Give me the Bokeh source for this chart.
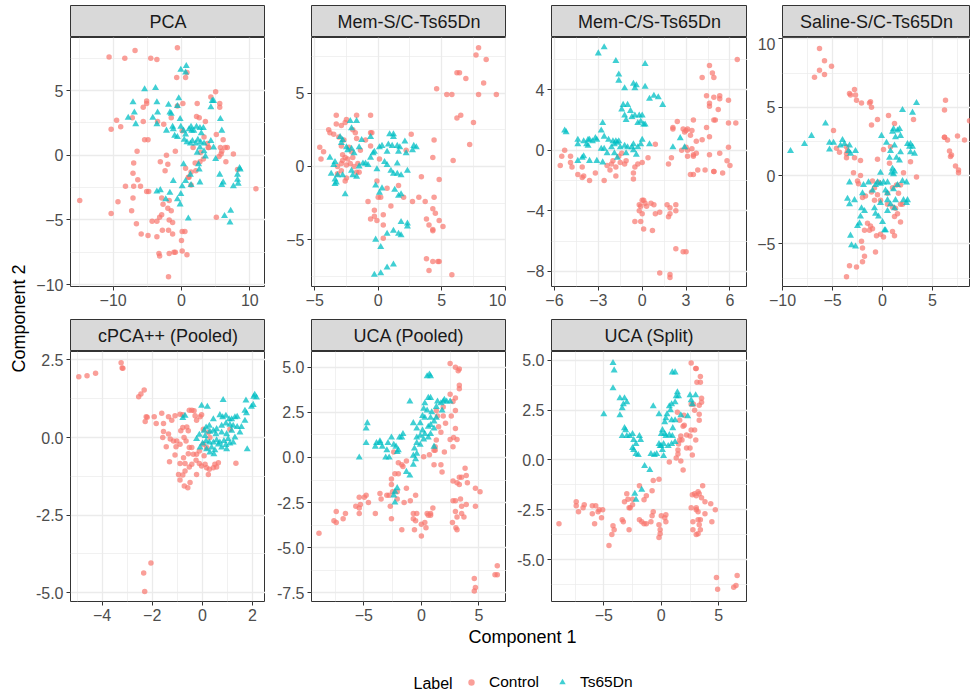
import math
from bokeh.plotting import figure
from bokeh.models import Range1d, FixedTicker, NumeralTickFormatter, Legend, LegendItem, ColumnDataSource
from bokeh.layouts import row, column
from bokeh.embed import file_html
from bokeh.resources import INLINE
from bokeh.core.properties import value

FONT = "Liberation Sans"
RED = "#F8766D"
TEAL = "#00BFC4"

# ---------------- data (x, y) ----------------
pca_control = [
(-10.6,7.6),(-8.3,7.5),(-6.8,8.1),(-4.5,7.5),(-3.6,7.4),(-0.6,8.3),(-0.7,6.0),(0.6,6.0),(0.8,6.4),
(-9.5,2.7),(-10.3,2.0),(-8.9,2.2),(-5.1,4.2),(-5.1,4.0),(-5.6,3.7),(-5.6,2.6),(-7.2,2.9),(-3.5,2.6),(-2.6,2.4),
(-6.5,0.3),(-5.4,1.2),(-4.9,1.2),(-2.2,0.0),(-0.9,0.3),(0.1,1.9),(0.2,4.0),(-0.6,3.8),(-1.5,2.9),
(-7.0,-0.6),(-7.1,-1.4),(-8.2,-2.4),(-7.0,-2.4),(-6.4,-1.9),(-6.0,-2.4),(-7.1,-3.3),(-9.3,-3.6),(-14.9,-3.5),
(-10.3,-4.5),(-7.3,-4.3),(-6.6,-5.3),(-5.1,-2.8),(-4.8,-2.8),(-3.1,-0.5),(-2.4,-1.2),(-2.0,-0.7),(-2.9,-3.3),
(-2.7,-3.8),(-2.0,-4.1),(-1.5,-4.3),(-1.8,-3.5),(-5.9,-6.1),(-4.9,-6.2),(-4.3,-5.1),(-3.6,-5.1),(-3.2,-4.8),
(-2.9,-4.6),(-3.6,-6.3),(-2.8,-5.8),(-1.9,-5.8),(-1.3,-6.1),(-1.8,-5.0),(-1.3,-5.2),(-3.3,-7.6),(-3.2,-7.8),
(-1.8,-7.6),(-1.1,-7.5),(-0.9,-7.5),(0.1,-5.9),(0.5,-5.9),(0.0,-6.6),(0.1,-7.4),(0.8,-7.7),(-1.9,-9.4),
(0.6,-1.0),(1.0,-1.7),(1.4,-1.3),(2.0,-0.6),(2.7,-0.5),(1.1,-1.7),(1.4,-2.3),(2.1,-1.2),(1.7,0.6),
(2.6,2.9),(2.3,4.0),(2.2,3.0),(3.5,2.6),(4.3,4.5),(5.0,4.9),(5.6,4.0),(5.6,3.7),(3.3,1.4),(3.8,0.9),(3.9,0.6),
(5.1,1.6),(6.1,1.2),(5.7,0.6),(5.9,0.3),(6.4,0.6),(6.7,0.6),(5.5,-0.1),(5.8,0.1),(6.5,-0.5),(7.6,0.1),(8.2,-1.1),
(10.9,-2.6),(5.1,-4.8),(4.0,0.6),(3.2,-0.3),(2.8,0.2)]
pca_ts65dn = [
(0.7,6.9),(-0.1,6.6),(0.6,6.4),(-5.4,5.1),(-3.8,5.2),(-7.1,4.1),(-6.9,3.3),(-7.8,2.9),(-6.7,2.4),(-3.6,4.1),
(-3.5,3.3),(-4.2,2.9),(-3.6,2.4),(-1.9,3.9),(-1.7,3.3),(-1.5,3.2),(-0.6,3.8),(-0.4,4.4),(-0.2,2.8),(-2.2,1.9),
(-1.2,2.0),(-1.3,2.2),(-1.0,1.5),(-0.6,1.4),(-0.1,2.2),(0.3,1.9),(0.6,1.6),(1.1,2.0),(1.4,2.2),(1.5,1.9),
(1.8,1.9),(2.2,2.2),(2.7,2.1),(3.2,2.1),(2.9,1.7),(0.4,1.2),(0.8,1.0),(1.3,0.9),(1.6,1.1),(2.1,0.9),(2.4,1.2),
(2.8,1.0),(3.3,0.9),(2.7,0.6),(2.3,0.2),(3.3,0.3),(3.5,-0.1),(4.3,1.1),(4.7,0.6),(4.5,4.2),(4.7,4.2),(4.3,3.7),
(5.7,2.8),(5.9,1.9),(5.0,-0.3),(0.3,-0.7),(2.5,-0.7),(2.6,-1.1),(1.3,-1.5),(1.4,-2.3),(2.7,-2.1),(-1.2,-2.0),
(0.1,-2.4),(0.6,-2.0),(-3.6,-2.8),(-3.1,-2.7),(-2.3,-3.4),(-1.7,-2.9),(-0.6,-3.4),(-0.2,-3.8),(-0.1,-3.0),
(1.0,-4.9),(5.6,-1.5),(5.9,-2.3),(6.1,-2.1),(7.6,-2.4),(8.2,-1.9),(8.3,-2.2),(8.5,-1.0),(8.6,-1.1),(8.2,-1.5),
(6.3,-4.7),(7.2,-4.3),(7.1,-5.2)]

memsc_control = [
(7.9,8.1),(7.7,7.6),(8.5,7.3),(6.2,6.4),(6.4,6.4),(6.9,6.0),(8.3,5.7),(4.6,5.3),(5.4,4.9),(5.8,4.9),(7.9,4.9),
(9.3,4.9),(6.2,3.3),(6.5,3.5),(7.5,3.0),(7.2,1.5),(5.9,0.4),(4.4,1.8),(4.3,0.6),(4.8,-0.9),(3.4,-0.7),(3.2,-2.1),
(3.7,-2.4),(2.7,-2.4),(4.4,-2.1),(4.3,-2.9),(4.5,-3.2),(3.8,-3.6),(4.0,-4.0),(4.3,-4.3),(4.3,-4.4),(4.8,-3.7),
(5.1,-4.1),(3.8,-6.3),(4.0,-7.1),(4.3,-6.5),(4.7,-6.5),(4.8,-6.5),(5.8,-7.4),(2.6,2.2),(2.2,1.1),(1.0,-2.7),
(0.7,-1.5),(1.6,-1.3),(2.0,-2.1),(0.2,-2.1),(0.0,-2.1),(-0.1,-1.0),(-0.8,-2.4),(-0.3,-3.0),(-0.6,-3.6),(-0.3,-3.4),
(-0.1,-3.7),(0.4,-3.3),(0.4,-4.0),(0.4,-4.9),(0.1,0.5),(-0.6,3.5),(-1.7,3.5),(-3.3,3.5),(-3.3,2.9),(-2.9,2.8),
(-3.9,2.5),(-3.8,2.3),(-3.5,2.2),(-2.5,3.2),(-2.6,3.0),(-2.0,2.5),(-1.8,2.3),(-1.7,1.9),(-0.6,2.3),(-0.5,2.3),
(-1.0,1.8),(-2.7,1.8),(-3.1,2.0),(-4.6,1.3),(-4.3,1.0),(-4.5,0.5),(-2.9,1.4),(-2.3,1.3),(-2.1,1.0),(-2.0,0.6),
(-2.8,0.8),(-2.6,0.6),(-2.8,0.4),(-2.9,0.2),(-2.4,0.5),(-2.5,0.1),(-2.2,0.2),(-3.2,0.0),(-2.9,-0.3),(-1.9,0.0),
(-1.6,0.2),(-1.7,-0.4),(-1.5,-0.4),(-2.5,-0.8),(-2.6,-1.0),(-3.2,-0.5),(-0.6,1.4),(-1.4,1.1)]
memsc_ts65dn = [
(-2.2,3.1),(-1.7,3.1),(-2.1,2.6),(-3.0,2.0),(-2.8,1.8),(-2.9,1.6),(-1.3,1.8),(-1.5,1.3),(-2.5,1.3),(-2.4,1.1),
(-2.1,1.2),(-1.9,0.9),(-3.8,0.6),(-3.4,0.3),(-3.5,0.1),(-3.2,-0.6),(-3.7,-0.5),(-3.4,-0.9),(-3.3,-1.1),(-3.4,-1.2),
(-2.6,-1.9),(-2.8,-0.6),(-2.1,-0.3),(-2.0,-0.6),(-1.7,-0.7),(-1.5,0.0),(-1.2,0.2),(-1.0,0.2),(-0.8,0.1),(-0.6,0.6),
(-0.4,0.9),(-0.3,1.0),(-0.6,2.0),(0.1,1.3),(0.3,1.4),(0.7,1.0),(0.9,2.2),(1.2,2.2),(1.2,2.0),(0.8,1.5),(1.1,1.4),
(1.5,1.4),(1.7,1.3),(1.6,1.0),(2.1,1.7),(2.2,0.9),(2.7,1.1),(2.8,1.4),(3.0,1.3),(0.5,0.3),(0.7,0.1),(1.0,-0.3),
(1.5,0.2),(1.2,-0.5),(1.5,-0.5),(2.3,-0.3),(1.8,-0.6),(-0.1,-0.2),(-0.2,-1.3),(0.1,-1.8),(0.3,-1.5),(1.3,-1.6),
(1.6,-2.0),(1.8,-1.9),(1.8,-3.8),(2.3,-3.9),(2.3,-4.1),(1.6,-4.6),(1.8,-4.7),(1.2,-4.4),(0.7,-4.6),(-0.2,-5.0),
(0.2,-5.5),(0.7,-6.9),(1.2,-6.7),(-0.3,-7.4),(0.2,-7.3)]

memcs_control = [
(6.5,6.0),(4.6,5.6),(4.8,5.1),(4.9,4.8),(4.1,4.8),(4.4,3.6),(4.9,3.5),(5.3,3.6),(4.6,3.1),(4.6,2.9),(5.3,3.4),
(5.9,3.3),(5.2,2.7),(4.9,2.0),(5.0,2.0),(4.4,1.5),(4.6,0.9),(5.9,1.8),(6.4,1.8),(5.9,0.2),(3.5,2.0),(3.4,1.3),
(4.1,0.7),(3.7,0.6),(3.0,1.3),(3.1,1.4),(3.3,1.0),(3.4,0.1),(3.5,-0.3),(3.7,-0.2),(3.5,-0.4),(3.1,-0.4),(2.4,1.9),
(2.1,1.5),(2.8,1.4),(2.9,1.2),(3.0,0.2),(2.7,0.0),(3.1,0.0),(3.8,-1.3),(4.3,-1.3),(3.3,-1.6),(3.5,-1.6),(4.9,-1.4),
(4.9,-1.4),(5.5,-1.5),(4.6,-0.3),(5.3,-0.2),(5.8,-0.7),(6.0,-1.0),(1.8,-0.9),(2.0,-0.5),(2.1,1.4),(0.9,0.4),
(0.4,-0.5),(0.0,-0.8),(-0.3,-0.9),(-0.5,-1.1),(-0.6,-1.5),(-0.6,-1.9),(-1.1,-0.7),(-1.2,-0.9),(-1.5,-0.8),
(-1.8,-1.1),(-1.8,-1.7),(-2.0,-0.7),(-2.1,-0.9),(-2.2,-1.3),(-2.4,-1.0),(-2.6,-2.0),(-3.2,-1.5),(-3.6,-2.0),
(-4.0,-1.7),(-4.1,-1.8),(-4.1,-1.1),(-4.4,-1.6),(-4.8,-1.1),(-4.9,-0.8),(-4.9,-0.4),(-5.5,-0.4),(-5.6,-1.0),
(-5.3,0.0),(-1.4,-0.2),(-1.6,-0.4),(0.3,-3.7),(0.0,-3.3),(0.1,-3.3),(0.2,-3.5),(-0.2,-3.6),(-0.1,-3.7),(0.0,-4.2),
(-0.2,-4.0),(-0.5,-4.7),(-0.1,-4.7),(0.1,-5.2),(0.6,-3.5),(0.8,-3.6),(0.9,-4.2),(1.2,-4.1),(1.7,-3.6),(1.9,-3.8),
(2.3,-3.6),(2.3,-4.0),(1.8,-4.4),(1.9,-4.2),(0.7,-5.3),(2.3,-6.5),(2.8,-6.7),(3.0,-6.7),(1.2,-8.1),(1.9,-8.2),
(1.9,-8.4)]
memcs_ts65dn = [
(-2.6,6.8),(-3.0,6.4),(-1.8,5.9),(-1.6,5.0),(-1.6,4.6),(-1.2,4.1),(-0.6,4.4),(-0.4,4.3),(-0.5,4.1),(0.2,4.2),
(0.2,5.7),(0.5,3.4),(0.8,3.6),(1.1,3.5),(1.4,3.0),(-1.3,3.0),(-1.0,3.0),(-1.4,2.7),(-0.8,2.6),(-1.2,2.3),
(-1.1,2.0),(-0.7,2.2),(-0.5,2.3),(-0.2,2.3),(0.0,2.3),(-0.3,1.8),(-0.1,1.9),(0.1,1.7),(0.2,1.7),(-2.7,1.8),
(-2.8,1.3),(-5.3,1.3),(-5.2,1.2),(-4.4,0.7),(-4.4,0.4),(-4.0,0.6),(-3.8,0.4),(-3.7,0.7),(-3.6,0.7),(-3.4,0.6),
(-3.7,0.3),(-3.2,0.8),(-3.1,0.7),(-2.8,0.1),(-2.6,0.9),(-2.3,0.7),(-2.0,0.6),(-1.9,0.4),(-1.8,0.6),(-1.7,0.5),
(-1.6,0.6),(-2.1,0.2),(-1.9,-0.2),(-2.4,-0.2),(-2.6,0.1),(-1.5,0.2),(-1.2,0.3),(-1.0,0.2),(-1.1,-0.2),(-0.7,0.2),
(-0.6,0.0),(-0.6,0.4),(-0.4,-0.3),(-0.3,0.2),(-0.1,0.4),(0.0,0.7),(0.5,0.4),(-4.0,-0.4),(-4.1,-0.5),(-3.6,-0.7),
(-4.4,-0.7),(-3.1,-0.7),(-2.7,-0.8),(-1.7,-0.5),(2.6,0.8),(2.1,0.2),(2.9,0.2)]

saline_control = [
(-6.3,9.3),(-5.8,8.4),(-6.3,7.7),(-6.8,7.2),(-5.8,7.4),(-5.1,8.0),(-3.3,6.0),(-2.8,6.3),(-3.2,5.9),(-2.7,5.9),
(-2.6,5.5),(-2.1,5.3),(-1.2,5.4),(-1.1,5.0),(-1.3,5.3),(-0.5,4.1),(-1.1,3.7),(0.6,4.4),(1.2,3.8),(3.1,4.1),
(-4.9,3.3),(-4.6,2.0),(-4.3,1.7),(-3.6,2.1),(-3.6,1.6),(-3.6,1.3),(-2.8,1.3),(-3.5,1.8),(-2.2,1.1),(0.1,1.9),
(0.8,2.1),(2.8,1.0),(3.4,-0.1),(2.1,0.2),(0.7,0.9),(-2.9,0.2),(-2.2,0.0),(-2.5,-0.4),(-2.4,-0.6),(-2.0,-1.6),
(-1.7,-1.5),(-1.1,-1.2),(-1.0,-0.4),(-0.8,-0.9),(-0.4,-0.5),(-0.2,-1.8),(-0.8,-1.8),(-0.5,-1.4),(0.5,-1.3),
(1.0,-0.9),(1.4,-0.7),(1.8,-0.7),(1.6,-1.3),(1.8,-2.1),(2.0,-2.1),(1.3,-2.4),(1.5,-2.8),(1.2,-3.0),(1.8,-3.4),
(1.0,-2.3),(0.5,-2.1),(-1.5,-3.5),(-1.8,-4.0),(-1.3,-4.0),(-1.2,-3.7),(-1.0,-3.9),(-0.2,-4.3),(0.1,-4.5),
(-0.6,-4.4),(-0.7,-5.6),(1.0,-4.1),(1.2,-4.4),(-2.1,-4.8),(-2.0,-5.3),(-1.8,-5.9),(-2.0,-6.3),(-2.6,-6.7),
(-3.3,-6.6),(-3.6,-7.4),(6.3,5.5),(6.2,4.8),(8.7,4.0),(6.2,2.8),(6.2,2.8),(6.5,2.6),(7.5,2.9),(8.2,2.6),(6.7,1.8),
(6.9,1.5),(6.8,1.4),(7.3,0.7),(7.6,0.4),(7.6,0.2),(-0.5,1.2)]
saline_ts65dn = [
(-9.2,1.8),(-7.8,2.3),(-7.1,2.9),(-5.7,3.8),(-5.3,2.4),(-4.9,2.4),(-5.3,1.9),(-4.2,2.2),(-4.0,2.6),(-3.8,2.3),
(-3.3,2.2),(-3.4,1.8),(-3.2,1.6),(-2.7,1.8),(-3.3,-0.5),(-3.5,-1.7),(-3.3,-2.1),(-2.8,-1.8),(-1.9,-0.7),(-2.1,-2.4),
(-2.2,-3.0),(-2.5,-3.7),(-3.2,-4.4),(-3.1,-5.1),(-2.7,-5.2),(-2.3,-3.5),(-1.8,-2.6),(-2.0,-1.3),(-1.4,-0.5),
(-1.0,-1.1),(-0.7,-0.7),(-0.5,-0.5),(-0.2,0.2),(-0.2,-0.6),(0.1,-0.5),(0.3,-1.1),(0.5,-0.5),(-0.8,-2.4),(-0.7,-2.8),
(-0.4,-3.0),(-0.2,-2.0),(0.5,-1.8),(0.8,-2.1),(0.5,-2.6),(1.2,-2.4),(1.3,-1.8),(0.0,-3.4),(0.2,-4.0),(0.3,-4.0),
(0.5,-1.3),(1.0,0.5),(0.9,0.2),(1.1,0.1),(1.2,0.3),(1.1,-1.0),(1.5,-0.7),(2.0,-0.4),(2.4,-0.5),(2.1,-1.8),(2.4,-2.0),
(2.5,-1.8),(0.7,1.3),(0.8,1.8),(1.2,2.2),(1.4,1.3),(1.7,1.1),(1.8,1.7),(1.0,3.2),(1.1,3.4),(1.5,3.3),(1.7,3.4),
(1.8,2.9),(1.3,2.8),(2.0,4.8),(3.0,4.6),(3.4,5.3),(2.5,2.3),(2.7,2.1),(2.8,2.3),(3.0,2.1),(2.8,1.7),(3.2,1.6),
(-0.1,2.9),(0.4,2.4)]

cpca_control = [
(-4.93,1.96),(-4.6,1.99),(-4.26,2.07),(-3.24,2.41),(-3.17,2.23),(-3.2,2.24),(-2.32,1.53),(-2.45,1.40),(-2.54,1.31),
(-2.24,0.67),(-2.28,0.52),(-2.2,0.65),(-1.92,0.67),(-1.84,0.45),(-1.55,0.45),(-1.62,0.78),(-1.35,0.67),(-1.22,0.56),
(-1.09,0.70),(-0.89,0.75),(-0.78,0.73),(-0.52,0.88),(-0.42,0.88),(-0.33,0.86),(-0.29,0.70),(-0.23,0.56),(-0.09,0.67),
(-0.03,0.73),(-1.58,0.00),(-1.55,0.19),(-1.35,0.11),(-1.28,-0.05),(-1.44,-0.30),(-1.15,-0.11),(-1.02,-0.11),
(-1.05,-0.30),(-0.86,0.22),(-0.78,0.32),(-0.62,0.34),(-0.56,0.22),(-0.73,0.0),(-0.65,-0.11),(-0.89,-0.22),
(-0.52,-0.32),(-0.42,-0.32),(-0.56,-0.52),(-0.36,-0.54),(-0.23,-0.54),(-0.12,-0.43),(-0.25,-0.73),(-1.09,-0.56),
(-0.75,-0.65),(-1.31,-0.78),(-0.89,-0.84),(-0.69,-0.84),(-0.42,-0.86),(-0.52,-0.95),(-0.69,-1.08),(-0.95,-1.19),
(-0.78,-1.21),(-0.89,-1.37),(-0.49,-1.45),(-0.72,-1.56),(-0.58,-1.62),(-0.23,-1.19),(-0.12,-0.84),(-0.03,-0.92),
(0.11,-0.86),(0.17,-0.97),(0.28,-1.02),(0.44,-0.97),(0.50,-0.86),(0.64,-0.81),(0.57,-0.95),(0.24,-1.19),(0.07,-0.59),
(0.17,-0.32),(0.30,0.00),(0.04,0.27),(0.24,0.16),(0.04,-0.22),(1.34,-0.83),(1.10,0.27),(-2.34,-4.36),(-2.05,-4.04),
(-2.3,-4.96)]
cpca_ts65dn = [
(-0.78,0.63),(-0.69,0.70),(-0.03,1.02),(0.20,0.99),(0.83,1.21),(-0.23,-0.05),(-0.12,0.09),(0.07,0.22),(0.15,0.32),
(0.28,0.38),(0.44,0.59),(0.70,0.72),(0.81,0.65),(0.94,0.70),(1.07,0.59),(1.17,0.59),(1.30,0.65),(1.39,0.67),
(1.70,0.86),(1.76,0.78),(1.74,1.19),(1.96,0.99),(2.03,1.05),(2.09,1.38),(2.16,1.29),(2.05,1.31),(1.70,0.54),
(1.39,0.34),(1.23,0.38),(1.10,0.41),(0.94,0.45),(0.77,0.38),(0.57,0.27),(0.44,0.22),(0.30,0.19),(0.54,0.11),
(0.77,0.16),(0.97,0.11),(1.17,0.22),(1.30,0.00),(1.03,-0.05),(0.86,-0.11),(0.70,-0.16),(0.57,-0.09),(0.44,-0.16),
(0.28,-0.16),(0.15,-0.11),(0.01,-0.19),(0.17,-0.38),(0.37,-0.32),(0.50,-0.41),(0.64,-0.22),(0.77,-0.32),(0.94,-0.24),
(0.97,-0.38),(1.10,-0.19),(1.23,-0.16),(1.79,-0.38),(0.30,-0.48),(0.46,-0.54),(-0.09,-0.32),(1.50,0.16),(1.56,0.34),
(0.11,0.05)]

ucap_control = [
(2.5,5.2),(2.96,5.0),(3.3,4.9),(3.2,4.8),(3.3,4.0),(3.3,3.8),(2.5,3.5),(2.96,3.3),(2.75,3.1),(2.96,2.6),(1.9,2.8),
(1.3,2.6),(1.4,2.3),(1.9,2.3),(2.6,2.3),(2.1,1.9),(1.5,1.7),(1.7,1.4),(2.96,1.6),(3.1,1.0),(2.8,1.1),(2.5,1.0),
(2.75,0.6),(1.3,0.97),(1.2,0.6),(1.2,0.4),(1.1,0.4),(2.0,0.3),(0.7,0.15),(0.2,0.04),(1.1,-0.4),(1.7,-0.4),(1.8,-0.8),
(3.8,-0.6),(3.3,-1.1),(3.5,-1.1),(3.9,-1.0),(2.75,-1.3),(3.1,-1.4),(4.0,-1.4),(3.3,-1.5),(4.7,-1.7),(5.1,-1.9),
(2.96,-2.4),(2.75,-2.4),(3.4,-2.3),(3.9,-2.6),(4.7,-2.7),(3.5,-2.7),(2.96,-3.0),(3.5,-3.1),(3.7,-3.3),(3.1,-3.3),
(2.7,-3.6),(3.0,-3.9),(3.1,-4.0),(4.6,-6.7),(4.7,-7.2),(4.6,-7.4),(6.6,-6.0),(6.4,-6.5),(6.6,-6.5),(-2.4,0.3),
(-2.0,-0.3),(-1.7,-0.4),(-1.6,-0.5),(-1.3,-0.2),(-2.3,-0.9),(-2.0,-0.9),(-2.6,-1.2),(-2.6,-1.5),(-2.1,-1.9),
(-2.5,-1.9),(-2.1,-2.3),(-1.3,-1.7),(-0.96,-2.4),(-0.5,-2.1),(-1.5,-2.5),(-3.0,-2.1),(-3.6,-2.0),(-3.5,-2.3),
(-4.0,-3.1),(-2.7,-2.7),(-2.8,-2.1),(-4.8,-2.1),(-4.96,-2.2),(-4.6,-2.5),(-5.4,-2.2),(-5.3,-2.6),(-5.4,-2.8),
(-5.4,-3.1),(-5.7,-2.7),(-6.6,-3.1),(-6.8,-3.4),(-7.4,-3.0),(-7.6,-3.5),(-7.4,-3.6),(-8.9,-4.2),(-2.6,-3.4),
(-1.7,-4.0),(-0.7,-3.1),(-0.4,-3.1),(-0.7,-3.4),(-0.5,-3.5),(-0.6,-4.0),(0.0,-3.7),(0.0,-4.35),(0.3,-3.6),(0.4,-3.9),
(0.5,-3.1),(0.6,-3.2),(0.8,-3.1),(0.8,-3.2),(1.0,-2.8)]
ucap_ts65dn = [
(0.5,4.5),(0.7,4.6),(0.8,4.5),(-1.0,3.1),(0.6,3.3),(0.8,3.3),(1.4,3.1),(1.9,3.1),(2.0,3.2),(2.2,3.1),(2.5,3.1),
(1.3,2.8),(1.7,3.0),(1.8,2.6),(0.3,3.0),(0.2,2.7),(0.5,2.6),(0.9,2.5),(0.1,2.3),(0.3,2.2),(0.8,2.2),(1.3,2.2),
(1.1,2.0),(0.8,1.8),(0.6,1.7),(1.1,1.6),(-0.1,1.9),(-0.4,1.6),(0.1,1.5),(0.3,1.3),(-0.1,1.2),(-0.4,1.1),(0.2,1.0),
(0.6,1.1),(0.8,1.3),(-0.4,0.8),(-0.1,0.7),(-0.6,0.5),(-0.4,0.2),(-0.7,0.1),(-0.5,-0.1),(-0.7,-0.4),(-0.7,1.9),
(1.1,0.6),(-4.7,1.9),(-4.8,1.6),(-4.8,0.8),(-3.9,0.8),(-3.6,0.9),(-3.6,0.8),(-4.0,0.6),(-3.4,0.6),(-2.9,0.8),
(-2.6,1.1),(-2.4,0.7),(-2.2,0.6),(-1.9,1.1),(-1.6,1.3),(-1.7,1.1),(-2.0,0.4),(-2.1,0.3),(-3.0,0.4),(-2.8,0.0),
(-3.1,0.0),(-5.4,0.0),(-1.3,-0.8),(-1.0,-1.0),(-2.1,-1.7),(-2.3,-1.9),(-2.4,-2.1),(-2.3,-2.5)]

ucas_control = [
(2.6,4.87),(2.99,4.6),(3.04,4.6),(3.4,4.2),(3.1,3.9),(3.4,3.9),(3.5,3.1),(3.5,2.9),(3.3,2.75),(3.3,2.3),(3.3,2.0),
(2.8,2.8),(2.6,2.8),(2.9,2.5),(1.97,2.25),(1.4,2.4),(1.6,2.0),(2.0,1.75),(1.9,1.7),(2.6,1.5),(2.9,1.5),(3.0,1.0),
(2.5,1.2),(2.2,1.25),(1.7,1.2),(1.8,1.0),(1.6,1.0),(1.5,0.8),(2.2,0.6),(2.5,0.6),(2.7,0.25),(1.45,0.5),(1.45,0.3),
(1.3,0.1),(1.7,-0.05),(0.7,-0.1),(1.9,-0.5),(-0.2,-0.97),(-0.7,-1.03),(-1.9,-1.3),(-0.8,-1.55),(-1.3,-1.8),
(-1.5,-2.0),(-3.0,-1.7),(-2.9,-1.97),(-3.2,-2.1),(-2.5,-1.97),(-2.5,-2.25),(-2.7,-2.4),(-2.8,-2.4),(-3.4,-3.0),
(-3.3,-3.1),(-2.8,-3.5),(-4.2,-3.3),(-4.1,-3.5),(-4.3,-3.75),(-4.55,-4.3),(-5.1,-2.5),(-5.4,-2.5),(-5.5,-2.6),
(-6.0,-2.7),(-5.7,-2.3),(-6.0,-2.3),(-5.8,-3.2),(-5.2,-2.9),(-6.7,-2.25),(-6.8,-2.4),(-7.4,-2.1),(-7.4,-2.3),
(-7.2,-2.6),(-8.9,-3.2),(-1.9,-3.0),(-1.7,-3.1),(-1.5,-3.2),(-1.3,-3.2),(-0.9,-3.1),(-0.7,-2.6),(-0.8,-2.8),
(-0.2,-3.25),(-0.1,-3.5),(-0.1,-3.7),(-0.2,-3.9),(0.0,-2.8),(0.3,-2.9),(0.4,-2.75),(0.4,-3.1),(2.7,-1.75),(2.9,-1.7),
(3.2,-1.6),(3.3,-1.7),(3.6,-1.3),(3.04,-1.8),(3.5,-1.9),(3.8,-2.1),(4.3,-2.2),(4.7,-2.5),(2.6,-2.4),(3.04,-2.4),
(3.04,-2.5),(3.2,-2.6),(3.8,-2.7),(3.4,-3.0),(3.2,-3.0),(2.75,-3.1),(3.3,-3.25),(3.4,-3.5),(2.75,-3.5),(3.04,-3.75),
(3.2,-3.7),(4.4,-3.1),(4.8,-5.9),(4.9,-6.5),(6.6,-5.8),(6.5,-6.3),(6.3,-6.4)]
ucas_ts65dn = [
(-4.2,4.87),(-4.1,4.5),(-4.2,3.6),(-3.6,3.1),(-3.2,3.1),(-3.3,2.8),(-3.0,2.9),(-3.4,2.6),(-3.6,2.25),(-5.0,2.3),
(-3.2,1.6),(-3.1,1.5),(-3.4,1.2),(-3.0,1.2),(-2.75,1.2),(-2.5,1.3),(-2.4,1.0),(-1.9,1.2),(-1.8,1.0),(-2.2,0.8),
(-2.5,0.6),(-2.4,0.5),(-2.2,0.3),(-2.0,0.25),(-1.45,-0.3),(-1.0,-0.5),(-0.7,2.7),(-0.9,0.3),(-0.6,0.25),(-0.4,0.3),
(-0.2,2.3),(0.3,1.9),(0.4,2.1),(0.5,2.3),(0.7,2.7),(0.8,2.5),(0.9,2.8),(1.2,2.9),(1.3,3.2),(1.4,3.4),(1.5,3.2),
(0.96,4.4),(1.2,4.4),(1.2,2.0),(1.0,1.6),(0.9,2.0),(0.1,1.5),(0.0,1.3),(0.3,1.3),(0.4,1.2),(0.7,1.25),(0.96,1.2),
(-0.2,0.8),(0.0,0.7),(0.1,0.5),(0.2,0.2),(-0.1,0.7),(0.2,0.8),(0.6,0.7),(0.9,0.8),(1.2,0.9),(2.5,3.25),(2.6,3.0),
(2.7,2.8),(2.99,3.25),(2.3,2.2),(1.7,2.25),(-2.3,-1.7),(-1.7,-1.5),(-2.2,-2.0)]

facet_titles = ["PCA", "Mem-S/C-Ts65Dn", "Mem-C/S-Ts65Dn", "Saline-S/C-Ts65Dn",
                "cPCA++ (Pooled)", "UCA (Pooled)", "UCA (Split)"]
legend_labels = ["Control", "Ts65Dn"]

panels = [
    dict(ctrl=pca_control, ts=pca_ts65dn, xr=(-16.25, 12.3), yr=(-10.15, 9.1),
         xt=[-10, 0, 10], xm=[-15, -5, 5], yt=[-10, -5, 0, 5], ym=[-7.5, -2.5, 2.5, 7.5], dec=False),
    dict(ctrl=memsc_control, ts=memsc_ts65dn, xr=(-5.25, 10.1), yr=(-8.2, 8.8),
         xt=[-5, 0, 5, 10], xm=[-2.5, 2.5, 7.5], yt=[-5, 0, 5], ym=[-7.5, -2.5, 2.5, 7.5], dec=False),
    dict(ctrl=memcs_control, ts=memcs_ts65dn, xr=(-6.2, 7.2), yr=(-9.0, 7.45),
         xt=[-6, -3, 0, 3, 6], xm=[-4.5, -1.5, 1.5, 4.5], yt=[-8, -4, 0, 4], ym=[-6, -2, 2, 6], dec=False),
    dict(ctrl=saline_control, ts=saline_ts65dn, xr=(-10.0, 8.8), yr=(-8.12, 10.1),
         xt=[-10, -5, 0, 5], xm=[-7.5, -2.5, 2.5, 7.5], yt=[-5, 0, 5, 10], ym=[-7.5, -2.5, 2.5, 7.5], dec=False),
    dict(ctrl=cpca_control, ts=cpca_ts65dn, xr=(-5.26, 2.52), yr=(-5.28, 2.77),
         xt=[-4, -2, 0, 2], xm=[-5, -3, -1, 1], yt=[-5, -2.5, 0, 2.5], ym=[-3.75, -1.25, 1.25], dec=True),
    dict(ctrl=ucap_control, ts=ucap_ts65dn, xr=(-9.55, 7.4), yr=(-7.98, 5.87),
         xt=[-5, 0, 5], xm=[-7.5, -2.5, 2.5], yt=[-7.5, -5, -2.5, 0, 2.5, 5],
         ym=[-6.25, -3.75, -1.25, 1.25, 3.75], dec=True),
    dict(ctrl=ucas_control, ts=ucas_ts65dn, xr=(-9.55, 7.5), yr=(-7.11, 5.45),
         xt=[-5, 0, 5], xm=[-7.5, -2.5, 2.5], yt=[-5, -2.5, 0, 2.5, 5],
         ym=[-6.25, -3.75, -1.25, 1.25, 3.75], dec=True),
]

# ---------------- layout geometry ----------------
LEFTS = [40, 46, 45, 35]
FWS = [195, 195, 196, 188]
ROW_FH = [249, 250]
ROW_BOTTOM = [33, 26]
STRIP_TOP = [5, 0]
STRIP_H = 32
TICK_SIZE = "16px"


def make_strip(title, left, fw, top):
    s = figure(frame_width=fw, frame_height=STRIP_H, x_range=Range1d(0, 1), y_range=Range1d(0, 1),
               min_border_left=left, min_border_right=0, min_border_top=top, min_border_bottom=0,
               x_axis_type=None, y_axis_type=None, toolbar_location=None, output_backend="svg")
    s.background_fill_color = "#D9D9D9"
    s.border_fill_color = "white"
    s.outline_line_color = "#333333"
    s.outline_line_width = 1
    s.grid.visible = False
    s.text(x=[0.5], y=[0.5], text=[title], text_align="center", text_baseline="middle",
           text_font=value(FONT), text_font_size="18px", text_color="#1A1A1A")
    return s


def make_panel(cfg, left, fw, fh, bottom):
    p = figure(frame_width=fw, frame_height=fh, x_range=Range1d(*cfg["xr"]), y_range=Range1d(*cfg["yr"]),
               min_border_left=left, min_border_right=0, min_border_top=0, min_border_bottom=bottom,
               toolbar_location=None, output_backend="svg")
    p.background_fill_color = "white"
    p.border_fill_color = "white"
    p.outline_line_color = "#333333"
    p.outline_line_width = 1
    p.xaxis.ticker = FixedTicker(ticks=cfg["xt"], minor_ticks=cfg["xm"])
    p.yaxis.ticker = FixedTicker(ticks=cfg["yt"], minor_ticks=cfg["ym"])
    if cfg["dec"]:
        p.yaxis.formatter = NumeralTickFormatter(format="0.0")
    for ax in (p.xaxis[0], p.yaxis[0]):
        ax.axis_line_color = None
        ax.major_tick_line_color = "#333333"
        ax.major_tick_out = 4
        ax.major_tick_in = 0
        ax.minor_tick_out = 0
        ax.minor_tick_in = 0
        ax.major_label_standoff = 3
        ax.major_label_text_font = FONT
        ax.major_label_text_font_size = TICK_SIZE
        ax.major_label_text_color = "#4D4D4D"
    for g in (p.xgrid[0], p.ygrid[0]):
        g.grid_line_color = "#EBEBEB"
        g.grid_line_width = 1.3
        g.minor_grid_line_color = "#EBEBEB"
        g.minor_grid_line_width = 0.7
    cx = [pt[0] for pt in cfg["ctrl"]]
    cy = [pt[1] for pt in cfg["ctrl"]]
    tx = [pt[0] for pt in cfg["ts"]]
    ty = [pt[1] for pt in cfg["ts"]]
    p.scatter(cx, cy, marker="circle", size=5.5, fill_color=RED, fill_alpha=0.7, line_color=None)
    p.scatter(tx, ty, marker="triangle", size=7, fill_color=TEAL, fill_alpha=0.75, line_color=None)
    return p


rows = []
idx = 0
for r, ncols in enumerate([4, 3]):
    cols = []
    for c in range(ncols):
        cfg = panels[idx]
        strip = make_strip(facet_titles[idx], LEFTS[c], FWS[c], STRIP_TOP[r])
        pan = make_panel(cfg, LEFTS[c], FWS[c], ROW_FH[r], ROW_BOTTOM[r])
        cols.append(column(strip, pan, spacing=0))
        idx += 1
    rows.append(row(*cols, spacing=0))
grid = column(*rows, spacing=0)

GRID_H = STRIP_TOP[0] + STRIP_H + ROW_FH[0] + ROW_BOTTOM[0] + STRIP_TOP[1] + STRIP_H + ROW_FH[1] + ROW_BOTTOM[1]

# y axis title
ylab = figure(width=30, height=GRID_H, x_range=Range1d(0, 30), y_range=Range1d(0, GRID_H), min_border=0,
              x_axis_type=None, y_axis_type=None, toolbar_location=None, output_backend="svg")
ylab.outline_line_color = None
ylab.grid.visible = False
ylab.text(x=[18], y=[GRID_H - 318], text=["Component 2"], angle=math.pi / 2, text_align="center",
          text_baseline="middle", text_font=value(FONT), text_font_size="18px", text_color="black")

# bottom: x axis title + legend
BH = 693 - GRID_H
bot = figure(width=970, height=BH, x_range=Range1d(0, 970), y_range=Range1d(0, BH), min_border=0,
             x_axis_type=None, y_axis_type=None, toolbar_location=None, output_backend="svg")
bot.outline_line_color = None
bot.grid.visible = False
bot.text(x=[522], y=[BH - (636 - GRID_H)], text=["Component 1"], text_align="center", text_baseline="middle",
         text_font=value(FONT), text_font_size="18px", text_color="black")
bot.text(x=[413], y=[BH - (683 - GRID_H)], text=["Label"], text_align="left", text_baseline="middle",
         text_font=value(FONT), text_font_size="16px", text_color="black")
# legend key renderers: one NaN point each (never drawn in the frame), only used for the legend keys
src_key = ColumnDataSource(data=dict(x=[float("nan")], y=[float("nan")]))
r1 = bot.scatter("x", "y", source=src_key, marker="circle", size=5.5, fill_color=RED, fill_alpha=0.7, line_color=None)
r2 = bot.scatter("x", "y", source=src_key, marker="triangle", size=7, fill_color=TEAL, fill_alpha=0.75, line_color=None)
leg = Legend(items=[LegendItem(label=legend_labels[0], renderers=[r1]),
                    LegendItem(label=legend_labels[1], renderers=[r2])],
             orientation="horizontal", location=(463, BH - (683 - GRID_H) - 8))
leg.padding = 0
leg.margin = 0
leg.spacing = 15
leg.glyph_width = 16
leg.glyph_height = 16
leg.label_height = 16
leg.label_standoff = 10
leg.label_text_font = FONT
leg.label_text_font_size = "15.5px"
leg.label_text_color = "black"
leg.label_text_baseline = "middle"
leg.background_fill_alpha = 0
leg.border_line_color = None
bot.add_layout(leg)

page = column(row(ylab, grid, spacing=0), bot, spacing=0)

open("out.html", "w").write(file_html(page, INLINE))
